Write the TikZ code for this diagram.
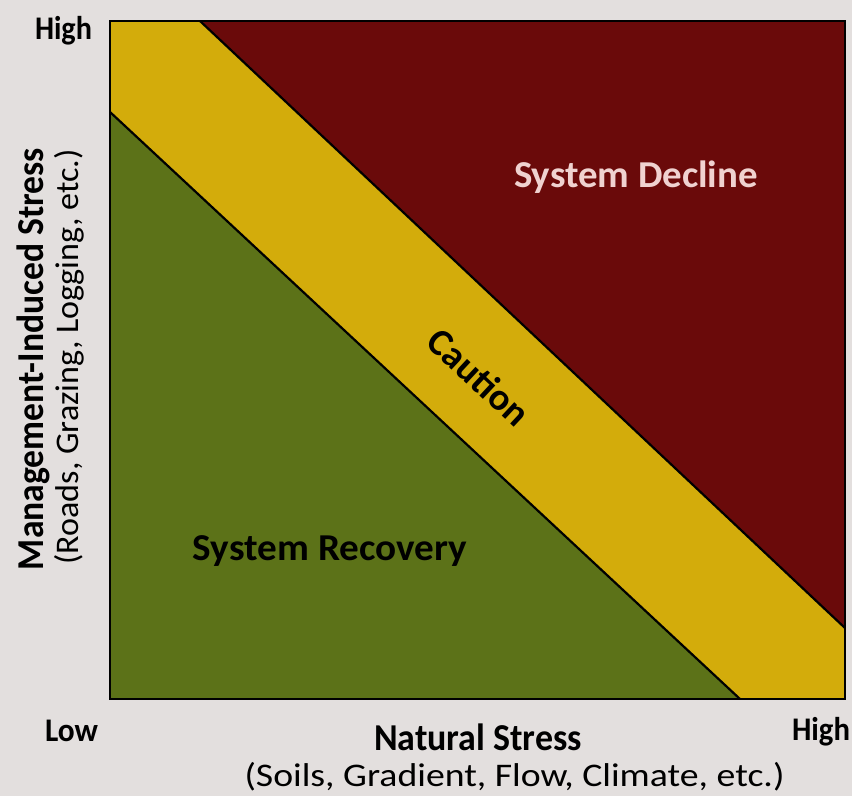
\documentclass[tikz,border=0pt]{standalone}
\usepackage{fontspec}
\setmainfont{Carlito}
\definecolor{bgc}{HTML}{E3DFDE}
\definecolor{redc}{HTML}{6A0A0A}
\definecolor{yelc}{HTML}{D3AC0B}
\definecolor{grnc}{HTML}{5C7218}
\definecolor{pinkc}{HTML}{F0D2D0}
\newcommand{\wfit}[2]{\resizebox{#1pt}{\height}{#2}}
\begin{document}
\begin{tikzpicture}[x=1pt,y=-1pt,
  lab/.style={font=\bfseries\fontsize{33}{36}\selectfont, text=black, inner sep=0pt, anchor=base},
  big/.style={font=\bfseries\fontsize{38}{42}\selectfont, inner sep=0pt, anchor=base},
  sub/.style={font=\fontsize{33}{36}\selectfont, inner sep=0pt, anchor=base}]
\fill[bgc] (0,0) rectangle (852,796);
\useasboundingbox (0,0) rectangle (852,796);
% regions
\coordinate (TL) at (110,21);
\coordinate (TR) at (845,21);
\coordinate (BR) at (845,699);
\coordinate (BL) at (110,699);
\coordinate (G1) at (110,112);
\coordinate (G2) at (740,699);
\coordinate (R1) at (200,21);
\coordinate (R2) at (845,628);
\fill[yelc] (TL) -- (TR) -- (BR) -- (BL) -- cycle;
\fill[grnc] (G1) -- (G2) -- (BL) -- cycle;
\fill[redc] (R1) -- (TR) -- (R2) -- cycle;
\draw[line width=2.2pt] (G1) -- (G2);
\draw[line width=2.2pt] (R1) -- (R2);
\draw[line width=2.6pt] (TL) -- (TR) -- (BR) -- (BL) -- cycle;
% labels
\node[big, text=pinkc] (dec) at (636,187) {\wfit{244}{System Decline}};
\node[big] (rec) at (330,560) {\wfit{274}{System Recovery}};
\node[big, anchor=center, rotate=-43] (cau) at (479,377) {\wfit{124}{Caution}};
\node[lab] (hi1) at (63.5,39) {\wfit{57}{High}};
\node[lab] (lo) at (71.5,741) {\wfit{53}{Low}};
\node[lab] (hi2) at (821,740) {\wfit{58}{High}};
\node[big] (nx) at (478,750) {\wfit{208}{Natural Stress}};
\node[sub] (nxs) at (514.5,786) {\wfit{540}{(Soils, Gradient, Flow, Climate, etc.)}};
\node[big, rotate=90] (my) at (43,359) {\wfit{422}{Management-Induced Stress}};
\node[sub, rotate=90] (mys) at (78,357) {\wfit{415}{(Roads, Grazing, Logging, etc.)}};
\end{tikzpicture}
\end{document}
